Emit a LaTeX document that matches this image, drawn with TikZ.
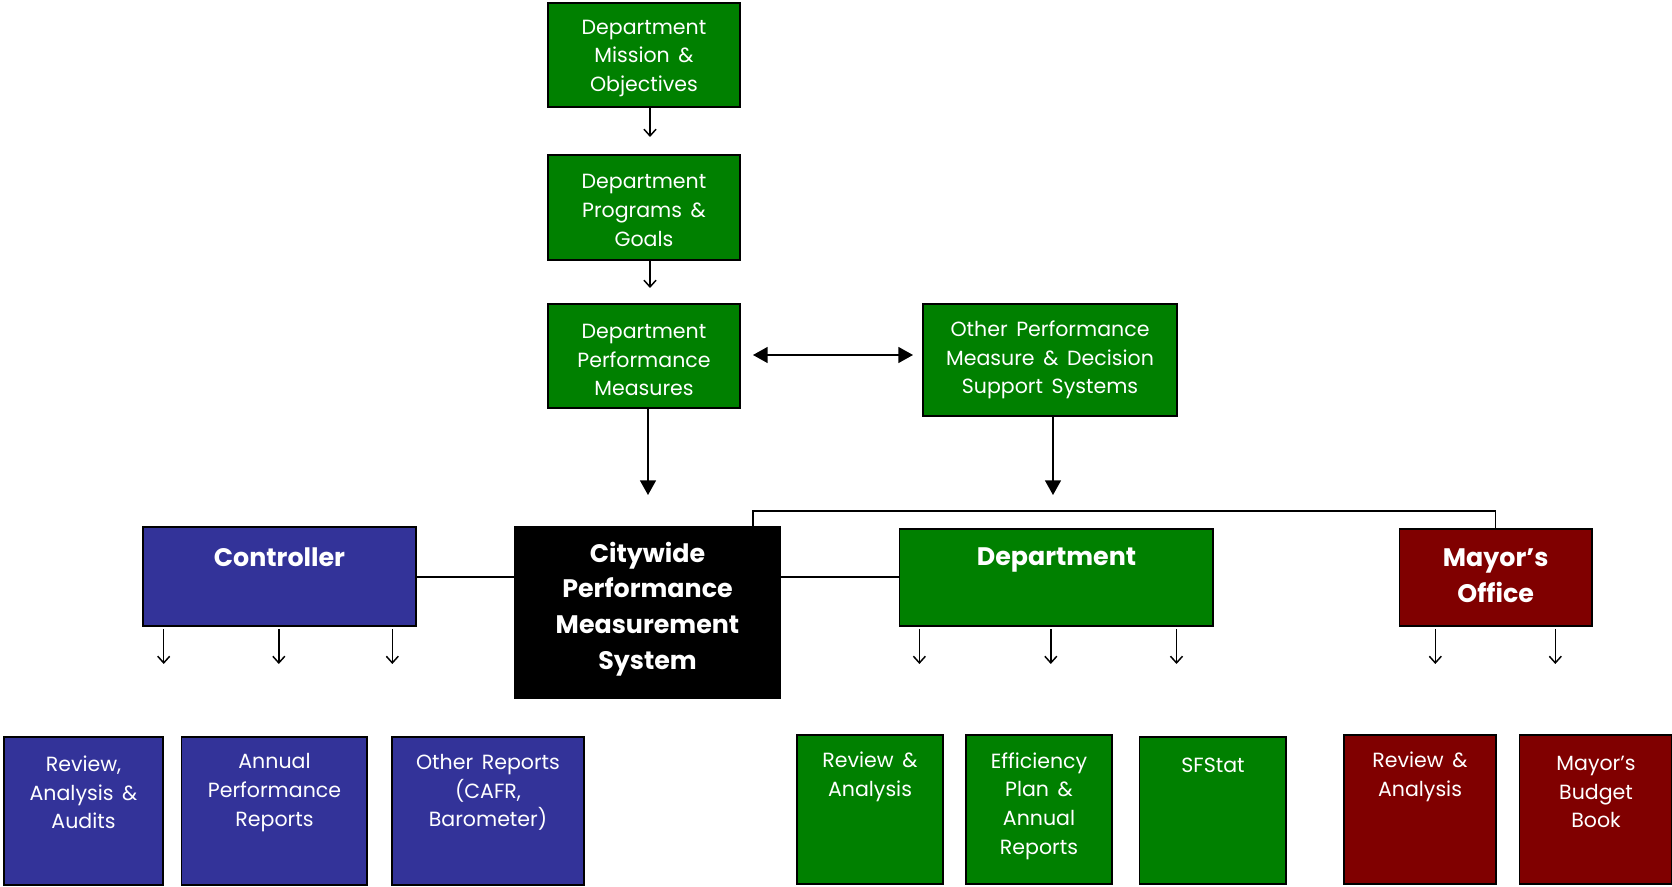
\documentclass[tikz,border=0pt]{standalone}
\usepackage{fontspec}
\setmainfont{Poppins}
\usetikzlibrary{arrows.meta,fit}
\definecolor{gr}{RGB}{0,128,0}
\definecolor{bl}{RGB}{51,51,153}
\definecolor{rd}{RGB}{128,0,0}
\newcommand\mywidesp{\spaceskip 0.42em plus 0.1em minus 0.05em\relax}
\begin{document}
\begin{tikzpicture}[x=0.75pt,y=-0.75pt,
  box/.style={draw=black,line width=1.2pt,inner sep=0pt},
  gbox/.style={box,fill=gr},
  bbox/.style={box,fill=bl},
  rbox/.style={box,fill=rd},
  kbox/.style={box,fill=black},
  txt/.style={text=white,align=center,inner sep=0pt,font=\fontsize{15.4}{21.5}\selectfont\mywidesp},
  btxt/.style={text=white,align=center,inner sep=0pt,font=\bfseries\fontsize{19}{26.7}\selectfont},
  conn/.style={line width=1pt},
  sarrow/.style={line width=1.1pt,-{Straight Barb[length=5pt,width=9pt]}},
  farrow/.style={line width=1.1pt,-{Triangle[length=11pt,width=12pt]}},
  darrow/.style={line width=1.1pt,{Triangle[length=11pt,width=12pt]}-{Triangle[length=11pt,width=12pt]}},
]
\useasboundingbox (0,0) rectangle (1672,887);
% top chain
\node[gbox,fit={(548,3) (740,107)}] (m1) {};
\node[gbox,fit={(548,155) (740,260)}] (m2) {};
\node[gbox,fit={(548,304) (740,408)}] (m3) {};
\node[gbox,fit={(923,304) (1177,416)}] (oth) {};
\node[txt] (m1t) at (644,58.5) {Department\\Mission \&\\Objectives};
\node[txt] (m2t) at (644,210.5) {Department\\Programs \&\\Goals};
\node[txt] (m3t) at (644,360) {Department\\Performance\\Measures};
\node[txt] (otht) at (1050,360) {Other Performance\\Measure \& Decision\\Support Systems};
% middle row
\node[bbox,fit={(143,527) (416,626)}] (ctrl) {};
\node[kbox,fit={(515,527) (780,698)}] (city) {};
\node[gbox,fit={(899.5,529) (1213,626)}] (dept) {};
\node[rbox,fit={(1399.5,529) (1592,626)}] (mayor) {};
\node[btxt] (ctrlt) at (279.5,557) {Controller};
\node[btxt] (cityt) at (647.5,609) {Citywide\\Performance\\Measurement\\System};
\node[btxt] (deptt) at (1056.5,560) {Department};
\node[btxt] (mayort) at (1495.7,575.5) {Mayor’s\\Office};
% bottom row
\node[bbox,fit={(4,737) (163,885)}] (c1) {};
\node[bbox,fit={(181.5,737) (367,885)}] (c2) {};
\node[bbox,fit={(392,737) (584,885)}] (c3) {};
\node[gbox,fit={(797,735) (943,884)}] (d1) {};
\node[gbox,fit={(966,735) (1112,884)}] (d2) {};
\node[gbox,fit={(1139.5,737) (1286,884)}] (d3) {};
\node[rbox,fit={(1344,735) (1496,884)}] (r1) {};
\node[rbox,fit={(1519.5,735) (1672,884)}] (r2) {};
\node[txt] (c1t) at (83.5,792.5) {Review,\\Analysis \&\\Audits};
\node[txt] (c2t) at (274.5,792.5) {Annual\\Performance\\Reports};
\node[txt] (c3t) at (488,792.5) {Other Reports\\(CAFR,\\Barometer)};
\node[txt] (d1t) at (870,777) {Review \&\\Analysis};
\node[txt] (d2t) at (1039,806) {Efficiency\\Plan \&\\Annual\\Reports};
\node[txt] (d3t) at (1213,765) {SFStat};
\node[txt] (r1t) at (1420,777) {Review \&\\Analysis};
\node[txt] (r2t) at (1596,792) {Mayor’s\\Budget\\Book};
% free arrow ends
\coordinate (a1) at (650,137);
\coordinate (a2) at (650,288);
\coordinate (a3) at (648,495);
\coordinate (a4) at (1053,495);
\coordinate (dl) at (753,355);
\coordinate (dr) at (913,355);
\coordinate (bus1) at (753,511);
\coordinate (bus2) at (1495.7,511);
\coordinate (k1) at (163.7,664);
\coordinate (k2) at (278.8,664);
\coordinate (k3) at (392.3,664);
\coordinate (g1) at (919.4,664);
\coordinate (g2) at (1050.8,664);
\coordinate (g3) at (1176.5,664);
\coordinate (q1) at (1435.3,664);
\coordinate (q2) at (1555.3,664);
% connectors
\draw[sarrow] (m1.south -| a1) -- (a1);
\draw[sarrow] (m2.south -| a2) -- (a2);
\draw[farrow] (m3.south -| a3) -- (a3);
\draw[farrow] (oth.south -| a4) -- (a4);
\draw[darrow] (dl) -- (dr);
\draw[conn] (ctrl.east |- 0,577) -- (city.west |- 0,577);
\draw[conn] (city.east |- 0,577) -- (dept.west |- 0,577);
\draw[conn] (city.north -| bus1) -- (bus1) -- (bus2) -- (mayor.north -| bus2);
\foreach \c in {k1,k2,k3} \draw[sarrow] (ctrl.south -| \c) ++(0,2) -- (\c);
\foreach \c in {g1,g2,g3} \draw[sarrow] (dept.south -| \c) ++(0,2) -- (\c);
\foreach \c in {q1,q2} \draw[sarrow] (mayor.south -| \c) ++(0,2) -- (\c);
\end{tikzpicture}
\end{document}
